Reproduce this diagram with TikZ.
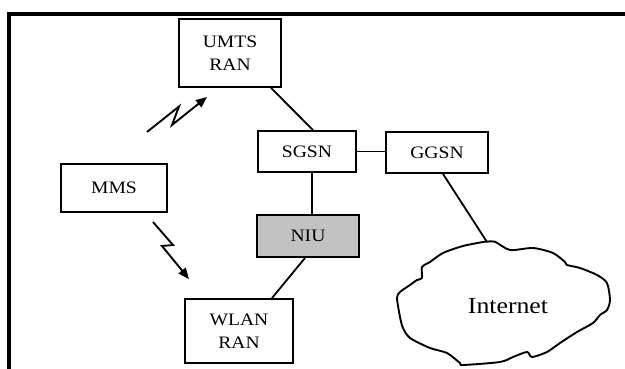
\documentclass[tikz,border=0pt]{standalone}
\usepackage{fontspec}
\setmainfont[FakeStretch=1.12]{Liberation Serif}
\usetikzlibrary{calc,arrows.meta}
\tikzset{
  box/.style={draw, line width=1.9pt, align=center, inner sep=0pt,
    font=\fontsize{17.5}{22.5}\selectfont},
  link/.style={line width=1.8pt},
  bolt/.style={line width=1.9pt, line join=miter, -{Triangle[length=11pt,width=9pt]}},
}
\begin{document}
\begin{tikzpicture}[x=1pt,y=-1pt]
\useasboundingbox (0,0) rectangle (625,369);
% frame
\draw[line width=4pt] (9.3,375) -- (9.3,14.5) -- (632,14.5);
% nodes
\node[box, minimum width=102pt, minimum height=68pt] (umts) at (230,53) {UMTS\\RAN};
\node[box, minimum width=98pt, minimum height=41pt] (sgsn) at (307,151.5) {SGSN};
\node[box, minimum width=102pt, minimum height=41pt] (ggsn) at (437,152.5) {GGSN};
\node[box, minimum width=106pt, minimum height=48pt] (mms) at (114,188) {MMS};
\node[box, fill=black!24, minimum width=102pt, minimum height=42pt] (niu) at (308,236) {NIU};
\node[box, minimum width=108pt, minimum height=64pt] (wlan) at (239,331) {WLAN\\RAN};
% cloud
\draw[line width=1.9pt, line join=round] plot[smooth cycle, tension=0.45] coordinates {
 (487,241.7) (495,241.7) (510,250) (533,248) (553,253) (565,262) (567,265)
 (580,268) (597,275) (607,283) (610,300) (607,310) (600,315) (593,323)
 (577,332) (560,343) (547,352) (532,357) (527,352) (513,357) (500,362)
 (463,365) (460,363) (447,353) (430,348) (410,338) (403,328) (400,317)
 (397,298) (400,292) (410,285) (417,280) (422,278) (422,267) (430,262)
 (443,253) (463,246) (483,242)};
\coordinate (cloudtop) at (487,242);
\node[font=\fontsize{23}{26}\selectfont] (inet) at (508,306) {Internet};
% links
\draw[link] ($(umts.south)+(41,0)$) -- ($(sgsn.north)+(6,0)$);
\draw[link] (sgsn.east) -- (sgsn.east -| ggsn.west);
\draw[link] ($(sgsn.south)+(5,0)$) -- ($(niu.north)+(4,0)$);
\draw[link] ($(niu.south)+(-3,0)$) -- ($(wlan.north)+(33,0)$);
\draw[link] ($(ggsn.south)+(6,0)$) -- (cloudtop);
% wireless bolts
\coordinate (b1s) at (147,132);
\coordinate (b1a) at (179,106.5);
\coordinate (b1b) at (172,125);
\coordinate (b1e) at (207,97);
\draw[bolt] (b1s) -- (b1a) -- (b1b) -- (b1e);
\coordinate (b2s) at (153,222);
\coordinate (b2a) at (173,245);
\coordinate (b2b) at (162,246);
\coordinate (b2e) at (189,279);
\draw[bolt] (b2s) -- (b2a) -- (b2b) -- (b2e);
\end{tikzpicture}
\end{document}
